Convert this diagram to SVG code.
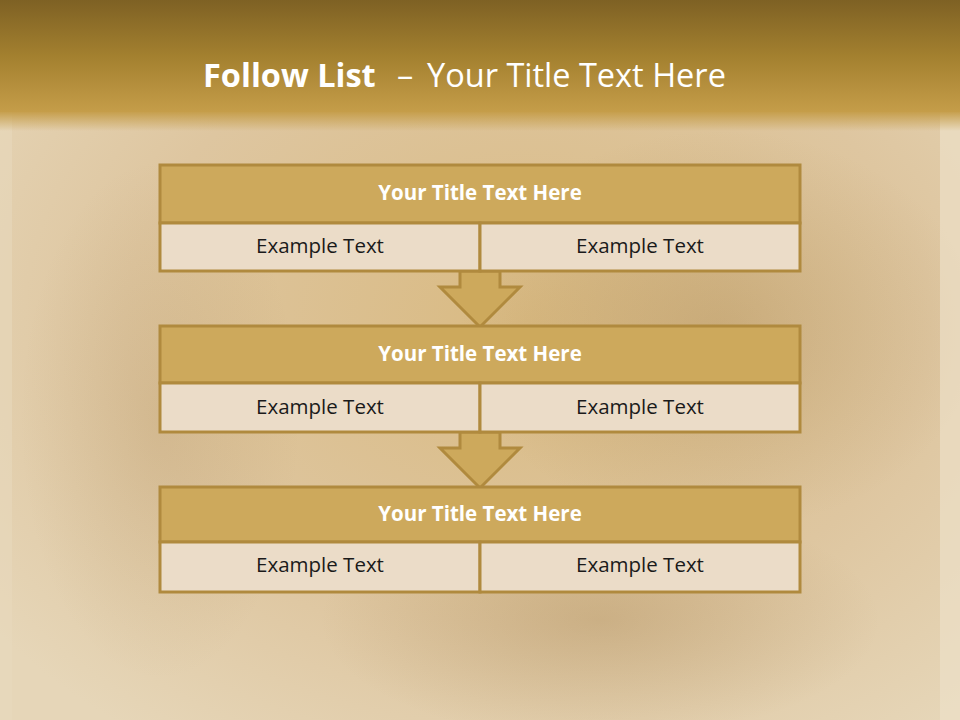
<svg xmlns="http://www.w3.org/2000/svg" width="960" height="720" viewBox="0 0 960 720">
<defs>
<linearGradient id="bar" x1="0" y1="0" x2="0" y2="1">
<stop offset="0" stop-color="#7e6124"/>
<stop offset="0.5" stop-color="#a3802f"/>
<stop offset="1" stop-color="#c59d49"/>
</linearGradient>
<linearGradient id="fade" x1="0" y1="0" x2="0" y2="1">
<stop offset="0" stop-color="#c59d49"/>
<stop offset="1" stop-color="#c59d49" stop-opacity="0"/>
</linearGradient>
<radialGradient id="bgg" cx="0.55" cy="0.45" r="0.7">
<stop offset="0" stop-color="#d9ba82"/>
<stop offset="0.6" stop-color="#dec6a0"/>
<stop offset="1" stop-color="#e6d6b8"/>
</radialGradient>
<radialGradient id="dark" cx="0.5" cy="0.5" r="0.5">
<stop offset="0" stop-color="#9a7640" stop-opacity="0.28"/>
<stop offset="1" stop-color="#9a7640" stop-opacity="0"/>
</radialGradient>
<style>
.tb{fill:#cda95c;stroke:#b08a3e;stroke-width:3}
.cl{fill:#ebdcc8;stroke:#b08a3e;stroke-width:3}
.ar{fill:#cda95c;stroke:#b08a3e;stroke-width:3;stroke-linejoin:miter}
.tt{font-family:"Open Sans","Liberation Sans",sans-serif;font-weight:bold;font-size:20.5px;fill:#ffffff;text-anchor:middle}
.ct{font-family:"Open Sans","Liberation Sans",sans-serif;font-size:20.5px;fill:#1a1a1a;text-anchor:middle}
.hd{font-family:"Open Sans","Liberation Sans",sans-serif;font-size:32.5px;fill:#ffffff}
</style>
</defs>
<g id="background">
<rect x="0" y="0" width="960" height="720" fill="url(#bgg)"/>
<ellipse cx="720" cy="330" rx="260" ry="200" fill="url(#dark)"/>
<ellipse cx="600" cy="620" rx="280" ry="120" fill="url(#dark)"/>
<ellipse cx="160" cy="420" rx="140" ry="260" fill="url(#dark)" opacity="0.6"/>
<rect x="940" y="110" width="20" height="610" fill="#ece0c8" opacity="0.7"/>
<rect x="0" y="110" width="12" height="610" fill="#e8d9bd" opacity="0.6"/>
<rect x="0" y="0" width="960" height="112" fill="url(#bar)"/>
<rect x="0" y="111" width="960" height="20" fill="url(#fade)"/>
</g>
<g id="title">
<text class="hd" x="203" y="87" font-weight="bold">Follow List</text>
<text class="hd" x="397" y="87">–</text>
<text class="hd" x="427" y="87" font-size="34">Your Title Text Here</text>
</g>
<g id="connectors">
<polygon class="ar" points="460,271 500,271 500,287 520,287 480,327 440,287 460,287"/>
<polygon class="ar" points="460,432 500,432 500,448 520,448 480,488 440,448 460,448"/>
</g>
<g id="node1">
<rect class="tb" x="160" y="165" width="640" height="58"/>
<rect class="cl" x="160" y="223" width="320" height="48"/>
<rect class="cl" x="480" y="223" width="320" height="48"/>
<text class="tt" x="480" y="200">Your Title Text Here</text>
<text class="ct" x="320" y="253">Example Text</text>
<text class="ct" x="640" y="253">Example Text</text>
</g>
<g id="node2">
<rect class="tb" x="160" y="326" width="640" height="57"/>
<rect class="cl" x="160" y="383" width="320" height="49"/>
<rect class="cl" x="480" y="383" width="320" height="49"/>
<text class="tt" x="480" y="361">Your Title Text Here</text>
<text class="ct" x="320" y="414">Example Text</text>
<text class="ct" x="640" y="414">Example Text</text>
</g>
<g id="node3">
<rect class="tb" x="160" y="487" width="640" height="55"/>
<rect class="cl" x="160" y="542" width="320" height="50"/>
<rect class="cl" x="480" y="542" width="320" height="50"/>
<text class="tt" x="480" y="521">Your Title Text Here</text>
<text class="ct" x="320" y="572">Example Text</text>
<text class="ct" x="640" y="572">Example Text</text>
</g>
</svg>
